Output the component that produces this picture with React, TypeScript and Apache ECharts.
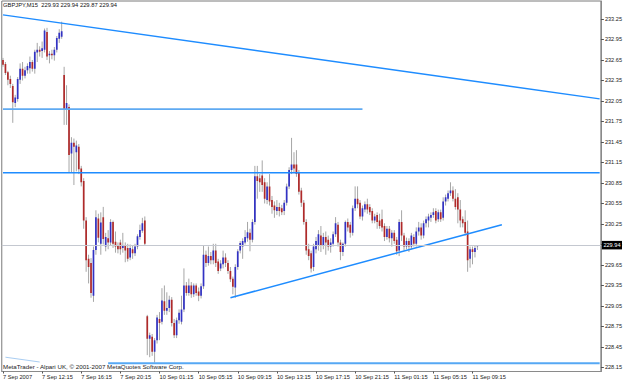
import { useEffect, useRef } from "react";
import * as echarts from "echarts";

// ---------- data ----------
const chartTitle = "GBPJPY,M15  229.93 229.94 229.87 229.94";
const copyright = "MetaTrader - Alpari UK, © 2001-2007 MetaQuotes Software Corp.";

const xTickLabels = [
  "7 Sep 2007", "7 Sep 12:15", "7 Sep 16:15", "7 Sep 20:15", "10 Sep 01:15",
  "10 Sep 05:15", "10 Sep 09:15", "10 Sep 13:15", "10 Sep 17:15", "10 Sep 21:15",
  "11 Sep 01:15", "11 Sep 05:15", "11 Sep 09:15",
];
const barsPerLabel = 16;
const slotCount = 245; // bars + chart shift space on the right

const yTickValues = [
  228.15, 228.45, 228.75, 229.05, 229.35, 229.65, 229.95, 230.25, 230.55,
  230.85, 231.15, 231.45, 231.75, 232.05, 232.35, 232.65, 232.95, 233.25,
];
const yMin = 228.091;
const yMax = 233.513;
const bidPrice = 229.94;

// [open, high, low, close]
const fridayBars = [
  [232.65, 232.68, 232.55, 232.58], [232.59, 232.62, 232.43, 232.46], [232.47, 232.49, 232.28, 232.36],
  [232.37, 232.42, 232.24, 232.30], [232.27, 232.30, 231.73, 232.03], [232.02, 232.14, 231.96, 232.10],
  [232.08, 232.40, 232.04, 232.37], [232.36, 232.60, 232.30, 232.52], [232.52, 232.62, 232.35, 232.42],
  [232.42, 232.55, 232.38, 232.50], [232.50, 232.60, 232.45, 232.56], [232.53, 232.70, 232.45, 232.62],
  [232.62, 232.65, 232.48, 232.52], [232.52, 232.80, 232.45, 232.77], [232.76, 232.90, 232.62, 232.80],
  [232.80, 232.85, 232.70, 232.77], [232.78, 232.92, 232.68, 232.82], [232.80, 233.11, 232.76, 233.08],
  [233.06, 233.12, 232.65, 232.70], [232.72, 232.78, 232.60, 232.74], [232.74, 232.80, 232.66, 232.72],
  [232.72, 232.84, 232.64, 232.80], [232.80, 233.00, 232.76, 232.97], [232.96, 233.10, 232.90, 233.05],
  [232.99, 233.21, 232.96, 233.07], [232.43, 232.55, 231.70, 231.92], [231.92, 232.28, 231.70, 232.02],
  [231.96, 232.00, 231.01, 231.26], [231.28, 231.52, 231.00, 231.44], [231.44, 231.50, 230.82, 231.38],
  [231.30, 231.47, 231.02, 231.40], [231.38, 231.42, 230.98, 231.05], [231.06, 231.10, 230.80, 230.86],
  [230.88, 230.92, 230.18, 230.30], [230.30, 230.35, 229.55, 229.72], [229.74, 229.80, 229.38, 229.62],
  [229.68, 229.75, 229.17, 229.24], [229.20, 229.92, 229.11, 229.87], [229.87, 230.45, 229.80, 230.35],
  [230.33, 230.40, 229.98, 230.05], [229.96, 230.42, 229.80, 230.27], [230.35, 230.50, 229.95, 230.03],
  [229.92, 230.12, 229.85, 230.06], [230.04, 230.16, 229.88, 229.98], [229.98, 230.32, 229.94, 230.28],
  [230.28, 230.30, 229.90, 229.96], [229.99, 230.14, 229.83, 229.92], [229.93, 229.98, 229.82, 229.88],
  [229.98, 230.02, 229.80, 229.88], [229.90, 230.12, 229.83, 229.93], [229.93, 229.98, 229.69, 229.86],
  [229.90, 229.96, 229.70, 229.74], [229.76, 229.95, 229.72, 229.90], [229.88, 229.94, 229.74, 229.82],
  [229.82, 229.96, 229.78, 229.92], [229.92, 230.10, 229.88, 230.07], [230.06, 230.24, 230.02, 230.16],
  [230.15, 230.34, 230.12, 230.26], [230.30, 230.36, 229.94, 229.96],
];
const mondayBars = [
  [228.90, 228.92, 228.33, 228.57], [228.57, 228.66, 228.30, 228.62], [228.60, 228.64, 228.32, 228.38],
  [228.38, 228.58, 228.22, 228.55], [228.55, 228.92, 228.50, 228.88], [228.86, 228.96, 228.55, 228.80],
  [228.82, 229.31, 228.78, 229.13], [229.12, 229.35, 228.92, 228.98], [228.98, 229.25, 228.92, 229.02],
  [229.02, 229.20, 228.96, 229.14], [229.14, 229.18, 228.75, 228.80], [228.80, 228.86, 228.58, 228.62],
  [228.62, 228.88, 228.58, 228.84], [228.84, 229.00, 228.79, 228.95], [228.82, 229.20, 228.78, 229.00],
  [229.00, 229.60, 228.96, 229.35], [229.35, 229.40, 229.20, 229.24], [229.24, 229.45, 229.20, 229.35],
  [229.35, 229.40, 229.17, 229.22], [229.22, 229.38, 229.18, 229.35], [229.35, 229.38, 229.20, 229.24],
  [229.26, 229.32, 229.12, 229.20], [229.20, 229.38, 229.16, 229.34], [229.34, 229.93, 229.30, 229.80],
  [229.80, 229.86, 229.62, 229.68], [229.68, 229.92, 229.64, 229.78], [229.78, 229.84, 229.66, 229.72],
  [229.72, 229.96, 229.66, 229.86], [229.86, 229.96, 229.62, 229.68], [229.70, 229.74, 229.52, 229.56],
  [229.60, 229.72, 229.56, 229.67], [229.66, 229.86, 229.60, 229.76], [229.76, 229.82, 229.62, 229.68],
  [229.68, 229.72, 229.52, 229.56], [229.56, 229.62, 229.40, 229.44], [229.45, 229.48, 229.22, 229.33],
  [229.32, 229.66, 229.17, 229.62], [229.62, 229.88, 229.58, 229.85], [229.86, 230.00, 229.82, 229.97],
  [229.92, 230.04, 229.74, 230.00], [229.98, 230.16, 229.95, 230.06], [230.04, 230.28, 229.99, 230.13],
  [230.12, 230.18, 229.85, 230.02], [230.02, 230.32, 229.98, 230.28], [230.28, 231.10, 230.24, 230.95],
  [230.95, 231.10, 230.62, 230.88], [230.92, 230.98, 230.72, 230.86], [230.96, 231.18, 230.72, 230.82],
  [230.86, 230.92, 230.55, 230.62], [230.60, 230.86, 230.54, 230.80], [230.80, 230.98, 230.52, 230.58],
  [230.60, 230.66, 230.40, 230.50], [230.52, 230.58, 230.34, 230.45], [230.44, 230.60, 230.38, 230.50],
  [230.50, 230.56, 230.36, 230.44], [230.48, 230.53, 230.38, 230.42], [230.44, 230.60, 230.38, 230.56],
  [230.56, 230.84, 230.52, 230.80], [230.80, 231.08, 230.76, 231.04], [231.04, 231.51, 230.98, 231.12],
  [231.12, 231.30, 231.00, 231.06], [231.12, 231.33, 230.94, 230.98], [231.00, 231.04, 230.68, 230.72],
  [230.74, 230.78, 230.50, 230.56], [230.56, 230.60, 230.24, 230.28], [230.28, 230.32, 229.80, 229.86],
  [229.88, 229.96, 229.72, 229.78], [229.82, 229.86, 229.54, 229.60], [229.62, 229.96, 229.56, 229.92],
  [229.88, 230.06, 229.82, 230.00], [229.94, 230.16, 229.86, 230.10], [230.08, 230.22, 229.84, 229.94],
  [229.94, 230.12, 229.88, 230.06], [230.06, 230.14, 229.80, 229.98], [230.02, 230.08, 229.86, 229.92],
  [229.92, 230.04, 229.83, 229.98], [229.96, 230.14, 229.92, 230.10], [230.10, 230.35, 230.06, 230.26],
  [230.24, 230.28, 229.92, 229.98], [229.98, 230.02, 229.72, 229.84], [229.84, 229.98, 229.78, 229.96],
  [229.96, 230.30, 229.92, 230.28], [230.28, 230.33, 230.14, 230.20], [230.24, 230.28, 230.05, 230.12],
  [230.12, 230.52, 230.08, 230.48], [230.48, 230.80, 230.44, 230.62], [230.62, 230.80, 230.48, 230.54],
  [230.56, 230.60, 230.32, 230.36], [230.36, 230.52, 230.30, 230.48], [230.46, 230.58, 230.42, 230.54],
  [230.54, 230.62, 230.40, 230.46], [230.50, 230.54, 230.38, 230.42], [230.44, 230.48, 230.26, 230.30],
  [230.30, 230.40, 230.26, 230.36], [230.38, 230.42, 230.18, 230.28], [230.30, 230.40, 230.18, 230.22],
  [230.32, 230.46, 230.14, 230.20], [230.22, 230.26, 230.00, 230.06],
];
const tuesdayBars = [
  [230.06, 230.22, 230.02, 230.18], [230.18, 230.22, 229.98, 230.04], [230.04, 230.16, 229.92, 230.12],
  [230.12, 230.16, 229.96, 230.00], [230.02, 230.06, 229.80, 229.85], [229.86, 230.32, 229.78, 230.28],
  [230.28, 230.45, 230.00, 230.08], [230.08, 230.12, 229.86, 229.92], [229.92, 230.05, 229.88, 230.00],
  [230.00, 230.04, 229.84, 229.92], [229.92, 230.12, 229.88, 230.08], [230.06, 230.10, 229.92, 229.96],
  [229.96, 230.20, 229.92, 230.14], [230.14, 230.28, 230.08, 230.20], [230.20, 230.26, 230.02, 230.08],
  [230.08, 230.30, 230.04, 230.26], [230.26, 230.36, 230.20, 230.32], [230.30, 230.40, 230.20, 230.36],
  [230.34, 230.42, 230.28, 230.38], [230.38, 230.48, 230.34, 230.42], [230.44, 230.48, 230.26, 230.30],
  [230.32, 230.46, 230.28, 230.42], [230.42, 230.46, 230.28, 230.32], [230.34, 230.64, 230.30, 230.58],
  [230.58, 230.68, 230.52, 230.64], [230.62, 230.74, 230.58, 230.70], [230.70, 230.86, 230.66, 230.74],
  [230.74, 230.80, 230.58, 230.62], [230.62, 230.76, 230.46, 230.50], [230.64, 230.70, 230.26, 230.46],
  [230.46, 230.60, 230.20, 230.30], [230.32, 230.36, 230.20, 230.26], [230.28, 230.45, 230.08, 230.12],
  [230.14, 230.30, 229.55, 229.72], [229.74, 229.92, 229.61, 229.88], [229.88, 229.92, 229.66, 229.84],
  [229.84, 229.94, 229.76, 229.90], [229.93, 229.94, 229.87, 229.94],
];

// drawn objects: [barIndex, price] end points
const resistanceTrend = [[0, 233.31], [244, 232.08]];
const supportTrend = [[93, 229.17], [204, 230.24]];
const upperLevel = [[0, 231.93], [147, 231.93]];
const middleLevel = [[0, 231.0], [244, 231.0]];
const lowerLevel = [[43, 228.21], [244, 228.21]];
const faintLine = [[1, 228.3], [15, 228.23]];

// ---------- styles ----------
const FONT = "'Liberation Sans', Arial, sans-serif";
const BULL = "#3232c4";
const BEAR = "#b02a2a";
const WICK = "#a6a6a6";
const LINE_BLUE = "#1e8cff";

export default function App() {
  const ref = useRef<HTMLDivElement>(null);

  useEffect(() => {
    if (!ref.current) return;
    const chart = echarts.init(ref.current, undefined, { renderer: "svg" });

    const bars = [...fridayBars, ...mondayBars, ...tuesdayBars];
    const candleData = bars.map((b, i) => [i, b[0], b[1], b[2], b[3]]);
    const categories = Array.from({ length: slotCount }, (_, i) => String(i));
    const isLabelIndex = (i: number) => i % barsPerLabel === 0 && i / barsPerLabel < xTickLabels.length;

    const lineSeries = (data: number[][], color: string, width: number, z = 4) => ({
      type: "line",
      data,
      symbol: "none",
      silent: true,
      z,
      lineStyle: { color, width },
      clip: true,
    });

    chart.setOption({
      animation: false,
      backgroundColor: "#ffffff",
      grid: {
        left: 1,
        right: 22,
        top: 1,
        bottom: 10.5,
        show: true,
        borderColor: "#7a7a7a",
        borderWidth: 1,
        backgroundColor: "#ffffff",
      },
      xAxis: {
        type: "category",
        data: categories,
        boundaryGap: true,
        axisLine: { show: true, lineStyle: { color: "#8a8a8a", width: 1 } },
        axisTick: {
          show: true,
          interval: (i: number) => isLabelIndex(i),
          alignWithLabel: true,
          length: 2,
          lineStyle: { color: "#555" },
        },
        axisLabel: {
          interval: (i: number) => isLabelIndex(i),
          formatter: (_v: string, i: number) => xTickLabels[i / barsPerLabel] ?? "",
          align: "left",
          margin: 2,
          fontSize: 5.7,
          fontFamily: FONT,
          color: "#222",
          hideOverlap: false,
        },
        splitLine: { show: false },
      },
      yAxis: {
        type: "value",
        position: "right",
        min: yMin,
        max: yMax,
        scale: true,
        axisLine: { show: true, lineStyle: { color: "#8a8a8a", width: 1 } },
        axisTick: {
          show: true,
          length: 3,
          customValues: yTickValues,
          lineStyle: { color: "#555" },
        },
        axisLabel: {
          customValues: yTickValues,
          formatter: (v: number) => v.toFixed(2),
          margin: 4,
          fontSize: 5.6,
          fontFamily: FONT,
          color: "#222",
        },
        splitLine: { show: false },
      },
      series: [
        {
          type: "line",
          data: [],
          z: 1,
          silent: true,
          markLine: {
            symbol: "none",
            silent: true,
            animation: false,
            data: [{ yAxis: bidPrice }],
            lineStyle: { color: "#c4c8d0", width: 1, type: "solid" },
            label: {
              show: true,
              position: "end",
              distance: 1,
              formatter: bidPrice.toFixed(2),
              backgroundColor: "#000",
              color: "#fff",
              fontSize: 5.6,
              fontFamily: FONT,
              padding: [1.5, 1.5, 1, 1.5],
            },
          },
        },
        {
          type: "custom",
          z: 2,
          silent: true,
          clip: true,
          data: candleData,
          encode: { x: 0, y: [1, 2, 3, 4] },
          renderItem: (_params: any, api: any) => {
            const i = api.value(0);
            const o = api.value(1);
            const h = api.value(2);
            const l = api.value(3);
            const c = api.value(4);
            const pH = api.coord([i, h]);
            const pL = api.coord([i, l]);
            const yO = api.coord([i, o])[1];
            const yC = api.coord([i, c])[1];
            const x = pH[0];
            const bw = 1.7;
            const top = Math.min(yO, yC);
            const hgt = Math.max(Math.abs(yO - yC), 1);
            return {
              type: "group",
              children: [
                {
                  type: "line",
                  shape: { x1: x, y1: pH[1], x2: x, y2: pL[1] },
                  style: { stroke: WICK, lineWidth: 1 },
                },
                {
                  type: "rect",
                  shape: { x: x - bw / 2, y: top, width: bw, height: hgt },
                  style: { fill: c >= o ? BULL : BEAR },
                },
              ],
            };
          },
        },
        lineSeries(resistanceTrend, LINE_BLUE, 1.4),
        lineSeries(supportTrend, LINE_BLUE, 1.5),
        lineSeries(upperLevel, "#5faaf2", 1.6),
        lineSeries(middleLevel, LINE_BLUE, 1.4),
        lineSeries(lowerLevel, "#56a8f4", 2),
        lineSeries(faintLine, "#a9cdf2", 1, 3),
      ],
      graphic: [
        {
          type: "text",
          left: 3,
          top: 2,
          silent: true,
          style: { text: chartTitle, fontSize: 5.8, fontFamily: FONT, fill: "#111" },
        },
        {
          type: "text",
          left: 3,
          top: 363,
          silent: true,
          z: 10,
          style: { text: copyright, fontSize: 6.2, fontFamily: FONT, fill: "#222" },
        },
      ],
    });

    return () => chart.dispose();
  }, []);

  return (
    <div
      ref={ref}
      style={{ position: "absolute", left: 0, top: 0, width: 625, height: 382 }}
    />
  );
}
